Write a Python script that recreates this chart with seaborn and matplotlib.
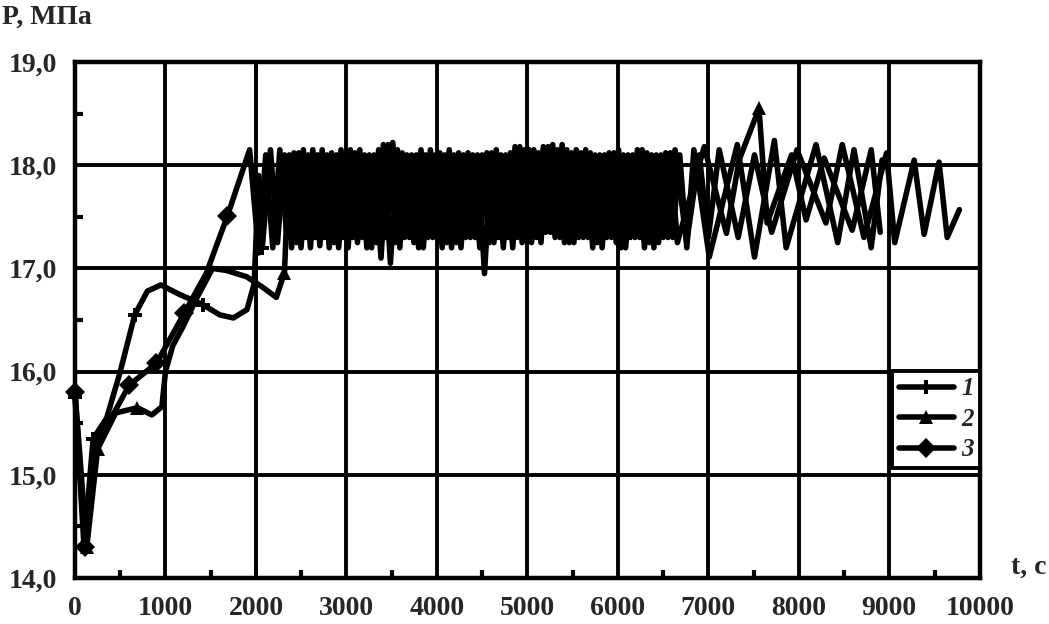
import matplotlib.pyplot as plt
from matplotlib.lines import Line2D
from matplotlib.ticker import MultipleLocator, FuncFormatter
import seaborn as sns
import pandas as pd

# series 1 (plus markers): time, s / pressure, MPa
t1 = [0, 100, 200, 350, 500, 660, 800, 950, 1150, 1410, 1600, 1750, 1900, 1980, 2030, 2070,
      2160, 2238, 2316, 2394, 2472, 2550, 2628, 2706, 2784, 2862, 2940, 3018, 3096, 3174,
      3252, 3330, 3408, 3486, 3564, 3642, 3720, 3798, 3876, 3954, 4032, 4110, 4188, 4266,
      4344, 4422, 4500, 4578, 4656, 4734, 4812, 4890, 4968, 5046, 5124, 5202, 5280, 5358,
      5436, 5514, 5592, 5670, 5748, 5826, 5904, 5982, 6060, 6138, 6216, 6294, 6372, 6450,
      6528, 6606, 6684, 6762, 6840, 7010, 7320, 7510, 7730, 7860, 8190, 8430, 8610, 8800, 8920]
p1 = [15.75, 14.3, 15.35, 15.55, 16.0, 16.55, 16.78, 16.84, 16.75, 16.65, 16.55, 16.52, 16.6, 16.85, 17.9, 17.2,
      18.15, 17.25, 18.10, 17.20, 18.12, 17.30, 18.15, 17.22, 18.10, 17.25, 18.15, 17.20, 18.12, 17.30,
      18.10, 17.25, 18.20, 17.05, 18.15, 17.30, 18.10, 17.20, 18.10, 17.30, 18.12, 17.25, 18.10, 17.20,
      18.12, 17.30, 18.10, 17.25, 18.15, 17.20, 18.12, 17.30, 18.15, 17.25, 18.12, 17.35, 18.20, 17.30,
      18.15, 17.25, 18.12, 17.30, 18.10, 17.20, 18.12, 17.25, 18.10, 17.30, 18.15, 17.20, 18.10, 17.25,
      18.12, 17.30, 18.10, 17.20, 18.15, 17.11, 18.20, 17.11, 18.24, 17.20, 18.20, 17.25, 18.15, 17.20, 18.05]
marks1 = [0, 100, 200, 660, 1410, 2070]

# series 2 (triangles)
t2 = [0, 130, 250, 450, 690, 850, 960, 1000, 1080, 1190, 1350, 1520, 1675, 1895, 2070, 2225, 2315,
      2368, 2446, 2524, 2602, 2680, 2758, 2836, 2914, 2992, 3070, 3148, 3226, 3304, 3382, 3460,
      3538, 3616, 3694, 3772, 3850, 3928, 4006, 4084, 4162, 4240, 4318, 4396, 4474, 4552, 4630,
      4708, 4786, 4864, 4942, 5020, 5098, 5176, 5254, 5332, 5410, 5488, 5566, 5644, 5722, 5800,
      5878, 5956, 6034, 6112, 6190, 6268, 6346, 6424, 6502, 6580, 6658,
      6955, 7200, 7340, 7560, 7650, 7920, 8080, 8280, 8590, 8800, 8900]
p2 = [15.8, 14.3, 15.25, 15.6, 15.65, 15.58, 15.66, 16.0, 16.25, 16.43, 16.72, 17.0, 16.98, 16.92, 16.82, 16.72, 16.96,
      18.10, 17.25, 18.15, 17.20, 18.10, 17.30, 18.12, 17.20, 18.10, 17.30, 18.15, 17.20, 18.10, 17.10, 18.20,
      17.25, 18.12, 17.30, 18.10, 17.20, 18.15, 17.30, 18.10, 17.20, 18.12, 17.30, 18.10, 17.20, 18.12, 17.25,
      18.10, 17.30, 18.18, 17.25, 18.15, 17.30, 18.18, 17.35, 18.15, 17.25, 18.12, 17.30, 18.15, 17.20, 18.10,
      17.30, 18.12, 17.20, 18.10, 17.30, 18.15, 17.25, 18.10, 17.30, 18.12, 17.25,
      18.18, 17.34, 18.05, 18.55, 17.44, 18.10, 17.47, 18.07, 17.37, 18.15, 17.35]
marks2 = [0, 130, 250, 690, 2315, 7560]

# series 3 (diamonds)
t3 = [0, 110, 220, 400, 600, 900, 1210, 1450, 1685, 1930,
      2030, 2108, 2186, 2264, 2342, 2420, 2498, 2576, 2654, 2732, 2810, 2888, 2966, 3044, 3122,
      3200, 3278, 3356, 3434, 3512, 3590, 3668, 3746, 3824, 3902, 3980, 4058, 4136, 4214, 4292,
      4370, 4448, 4526, 4604, 4682, 4760, 4838, 4916, 4994, 5072, 5150, 5228, 5306, 5384, 5462,
      5540, 5618, 5696, 5774, 5852, 5930, 6008, 6086, 6164, 6242, 6320, 6398, 6476, 6554, 6632,
      6760, 6900, 7000, 7120, 7330, 7510, 7700, 7980, 8300, 8480, 8720, 8970, 9060, 9275, 9385,
      9550, 9640, 9775]
p3 = [15.8, 14.3, 15.3, 15.55, 15.87, 16.08, 16.57, 16.95, 17.51, 18.15,
      17.15, 18.10, 17.20, 18.15, 17.30, 18.12, 17.20, 18.10, 17.30, 18.15, 17.20, 18.10, 17.30, 18.15, 17.25,
      18.10, 17.20, 18.15, 17.30, 18.22, 17.20, 18.10, 17.25, 18.15, 17.30, 18.10, 17.20, 18.15, 17.25, 18.10,
      17.30, 18.10, 16.95, 18.12, 17.30, 18.10, 17.20, 18.18, 17.30, 18.15, 17.25, 18.18, 17.30, 18.20, 17.25,
      18.15, 17.30, 18.12, 17.25, 18.10, 17.30, 18.15, 17.20, 18.10, 17.30, 18.12, 17.20, 18.10, 17.30, 18.15,
      17.25, 18.10, 17.30, 18.15, 17.30, 18.10, 17.35, 18.15, 17.44, 18.20, 17.30, 18.12, 17.25, 18.05, 17.33,
      18.03, 17.30, 17.57]
marks3 = [0, 110, 600, 900, 1210, 1685]

labels = ['1', '2', '3']
markers = ['P', '^', 'D']

sns.set_style("ticks")
plt.rcParams['font.family'] = ['Liberation Serif', 'DejaVu Serif']
plt.rcParams['font.weight'] = 'bold'

fig, ax = plt.subplots(figsize=(10.49, 6.24), dpi=100)
fig.subplots_adjust(left=0.0715, right=0.934, bottom=0.0737, top=0.9006)

for t, p, mk, m, lab in zip([t1, t2, t3], [p1, p2, p3], [marks1, marks2, marks3], markers, labels):
    df = pd.DataFrame({'t': t, 'p': p})
    sns.lineplot(data=df, x='t', y='p', ax=ax, color='black', lw=4.0, sort=False,
                 estimator=None, marker=m, markersize=10, markeredgewidth=0,
                 markevery=[t.index(v) for v in mk], clip_on=False, zorder=3,
                 solid_joinstyle='round', solid_capstyle='round')

ax.set_xlim(0, 10000)
ax.set_ylim(14, 19)
ax.xaxis.set_major_locator(MultipleLocator(1000))
ax.xaxis.set_minor_locator(MultipleLocator(500))
ax.yaxis.set_major_locator(MultipleLocator(1))
ax.yaxis.set_minor_locator(MultipleLocator(0.5))
ax.yaxis.set_major_formatter(FuncFormatter(lambda v, _: f"{v:.1f}".replace('.', ',')))
ax.grid(which='major', color='black', lw=2.8)
ax.tick_params(which='major', length=0, pad=13, labelsize=20)
ax.tick_params(which='minor', direction='in', length=6, width=3, color='black')
for s in ax.spines.values():
    s.set_linewidth(3.2)
    s.set_color('black')
ax.set_xlabel('')
ax.set_ylabel('')

fig.text(0.002, 0.972, 'P, МПа', ha='left', va='center', fontsize=20, fontweight='bold')
fig.text(0.998, 0.091, 't, c', ha='right', va='center', fontsize=20, fontweight='bold')

handles = [Line2D([], [], color='black', lw=4.0, marker=m, markersize=10, markeredgewidth=0)
           for m in markers]
leg = ax.legend(handles, labels, loc='upper right', bbox_to_anchor=(1.0, 0.401),
                borderaxespad=0, frameon=True, fancybox=False, edgecolor='black',
                framealpha=1, handlelength=2.2, handletextpad=0.3, labelspacing=0.3,
                borderpad=0.25, prop={'weight': 'bold', 'style': 'italic', 'size': 18})
leg.get_frame().set_linewidth(2.8)
leg.set_zorder(5)

fig.savefig('out.png', dpi=100)
